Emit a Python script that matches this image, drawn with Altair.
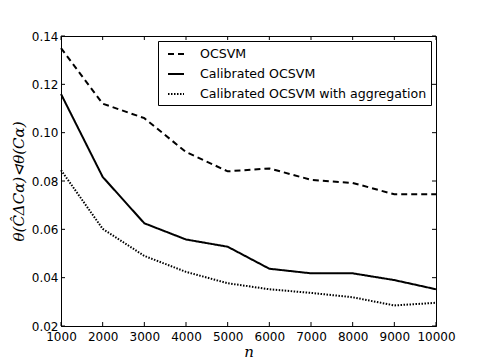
import altair as alt
import pandas as pd

n_values = [1000, 2000, 3000, 4000, 5000, 6000, 7000, 8000, 9000, 10000]
ocsvm = [0.135, 0.112, 0.106, 0.092, 0.084, 0.0852, 0.0805, 0.0792, 0.0745, 0.0745]
calibrated = [0.116, 0.0817, 0.0625, 0.0558, 0.0528, 0.0437, 0.0418, 0.0418, 0.039, 0.0352]
aggregated = [0.0845, 0.0602, 0.049, 0.0424, 0.0377, 0.0352, 0.0337, 0.0319, 0.0285, 0.0296]
series_names = ["OCSVM", "Calibrated OCSVM", "Calibrated OCSVM with aggregation"]
x_ticks = [1000, 2000, 3000, 4000, 5000, 6000, 7000, 8000, 9000, 10000]
y_ticks = [0.02, 0.04, 0.06, 0.08, 0.10, 0.12, 0.14]

rows = []
for name, vals in zip(series_names, [ocsvm, calibrated, aggregated]):
    for n, v in zip(n_values, vals):
        rows.append({"n": n, "value": v, "series": name})
df = pd.DataFrame(rows)

W, H = 375, 290
TL = 4
xscale = alt.Scale(domain=[1000, 10000], nice=False, zero=False)
yscale = alt.Scale(domain=[0.02, 0.14], nice=False, zero=False)

x_axis = alt.Axis(values=x_ticks, format="d", ticks=False, grid=False,
                  labelFont="DejaVu Sans", labelFontSize=12, labelColor="black",
                  labelPadding=5, labelFlush=False,
                  title="n", titleFont="DejaVu Serif", titleFontStyle="italic",
                  titleFontWeight="normal", titleFontSize=15, titleColor="black",
                  titlePadding=2, domainColor="black")
y_axis = alt.Axis(values=y_ticks, format=".2f", ticks=False, grid=False,
                  labelFont="DejaVu Sans", labelFontSize=12, labelColor="black",
                  labelPadding=3, labelFlush=False,
                  title="θ(ĈΔCα)⊲θ(Cα)", titleFont="DejaVu Serif", titleFontStyle="italic",
                  titleFontWeight="normal", titleFontSize=15, titleColor="black",
                  titlePadding=5, domainColor="black")

lines = alt.Chart(df).mark_line(color="black", strokeWidth=2).encode(
    x=alt.X("n:Q", scale=xscale, axis=x_axis),
    y=alt.Y("value:Q", scale=yscale, axis=y_axis),
    strokeDash=alt.StrokeDash(
        "series:N",
        scale=alt.Scale(domain=series_names, range=[[6, 4], [1, 0], [1.5, 1.5]]),
        sort=series_names,
        legend=alt.Legend(title=None, orient="none", legendX=97, legendY=5,
                          strokeColor="black", fillColor="white", padding=4,
                          symbolType="stroke", symbolSize=256, symbolStrokeWidth=2,
                          symbolStrokeColor="black", symbolOffset=5,
                          labelFont="DejaVu Sans",
                          labelFontSize=12.6, labelColor="black", labelOffset=15,
                          labelLimit=400, rowPadding=4, cornerRadius=0),
    ),
)

xt = pd.DataFrame({"n": x_ticks})
yt = pd.DataFrame({"value": y_ticks})
bottom = alt.Chart(xt).mark_rule(color="black", strokeWidth=1).encode(
    x=alt.X("n:Q", scale=xscale, axis=x_axis), y=alt.value(H), y2=alt.value(H - TL))
top = alt.Chart(xt).mark_rule(color="black", strokeWidth=1).encode(
    x=alt.X("n:Q", scale=xscale, axis=x_axis), y=alt.value(0), y2=alt.value(TL))
left = alt.Chart(yt).mark_rule(color="black", strokeWidth=1).encode(
    y=alt.Y("value:Q", scale=yscale, axis=y_axis), x=alt.value(0), x2=alt.value(TL))
right = alt.Chart(yt).mark_rule(color="black", strokeWidth=1).encode(
    y=alt.Y("value:Q", scale=yscale, axis=y_axis), x=alt.value(W - TL), x2=alt.value(W))

chart = alt.layer(lines, bottom, top, left, right).properties(
    width=W, height=H,
    autosize=alt.AutoSizeParams(type="none"),
    padding={"left": 53, "top": 28, "right": 41, "bottom": 38},
    background="white",
).configure_view(stroke="black", strokeWidth=1)

chart.save("out.html", embed_options={"renderer": "svg", "actions": False})
